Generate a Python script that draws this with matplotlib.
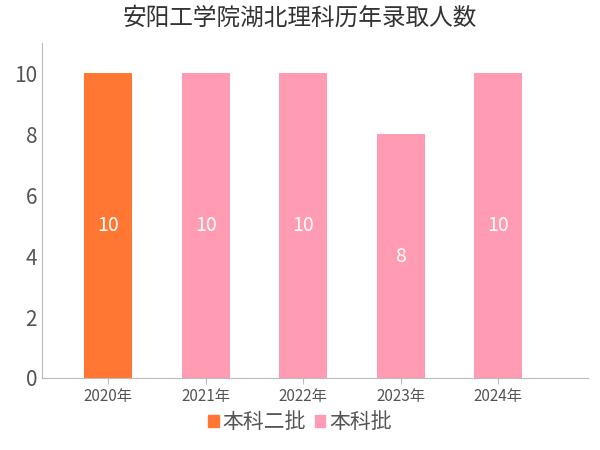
import matplotlib
matplotlib.use("Agg")
import matplotlib.pyplot as plt
from matplotlib.patches import Patch
from matplotlib import font_manager as fm

cands = [f for f in fm.findSystemFonts() if "CJK" in f or "cjk" in f.lower()]
for f in cands:
    try:
        fm.fontManager.addfont(f)
    except Exception:
        pass
names = sorted({fm.FontProperties(fname=f).get_name() for f in cands if not f.endswith(".ttc")} |
               {n.name for n in fm.fontManager.ttflist if "CJK" in n.name})
fam = next((n for n in names if "SC" in n), names[0] if names else "DejaVu Sans")
plt.rcParams["font.family"] = [fam, "DejaVu Sans"]

years = ["2020年", "2021年", "2022年", "2023年", "2024年"]
values = [10, 10, 10, 8, 10]
batches = ["本科二批", "本科批", "本科批", "本科批", "本科批"]
batch_colors = {"本科二批": "#FF7733", "本科批": "#FF9BB3"}

fig = plt.figure(figsize=(6, 4.5), dpi=100)
ax = fig.add_axes([0.07, 0.16, 0.91, 0.745])
x = range(len(years))
ax.bar(x, values, width=0.49, color=[batch_colors[b] for b in batches])
for i, v in enumerate(values):
    ax.text(i, v / 2, str(v), ha="center", va="center", color="white", fontsize=14)
ax.set_xlim(-0.68, 4.92)
ax.set_ylim(0, 11)
ax.set_yticks([0, 2, 4, 6, 8, 10])
ax.set_xticks(list(x))
ax.set_xticklabels(years, fontsize=11, color="#555555")
ax.tick_params(axis="y", labelsize=15, colors="#555555", length=0)
ax.tick_params(axis="x", length=4, color="#bbbbbb")
for s in ["top", "right"]:
    ax.spines[s].set_visible(False)
for s in ["left", "bottom"]:
    ax.spines[s].set_color("#bbbbbb")
fig.suptitle("安阳工学院湖北理科历年录取人数", fontsize=17, color="#333333", y=0.985)
handles = [Patch(color=c, label=l) for l, c in batch_colors.items()]
fig.legend(handles=handles, loc="lower center", ncol=2, frameon=False,
           fontsize=15, handlelength=0.5, handleheight=0.5, handletextpad=0.2,
           columnspacing=0.4, bbox_to_anchor=(0.5, -0.005), labelcolor="#555555")
fig.savefig("out.png")
